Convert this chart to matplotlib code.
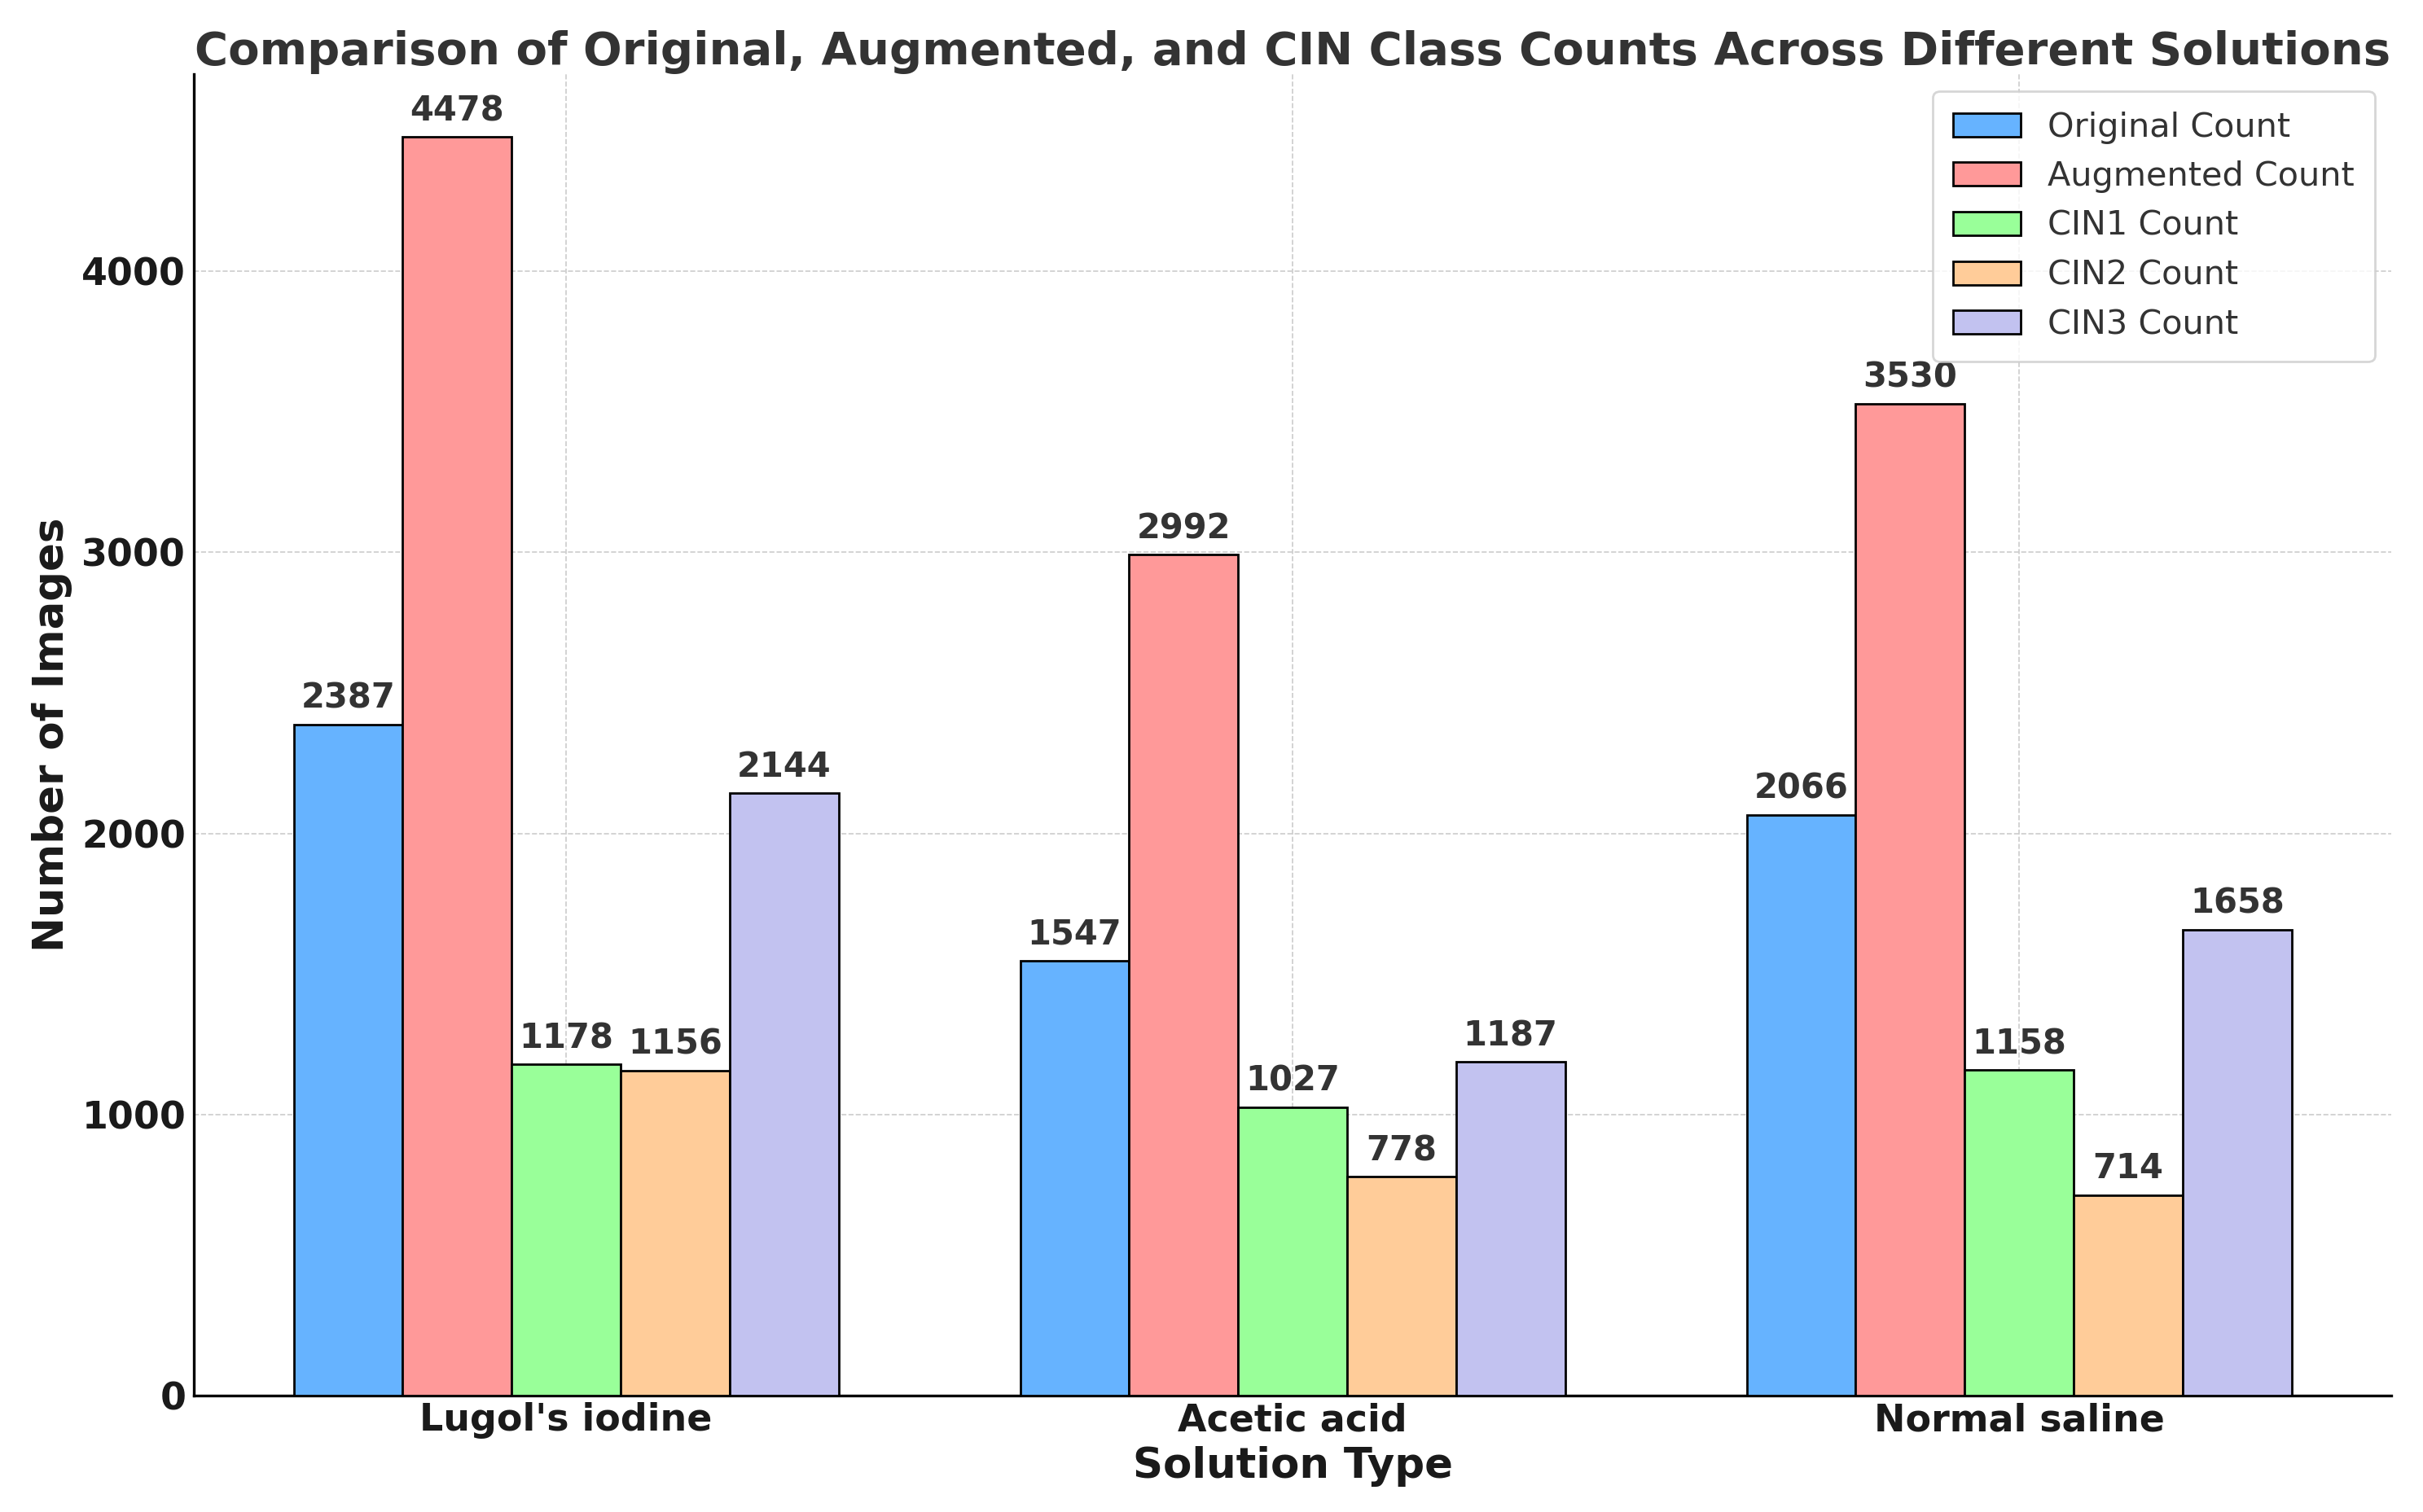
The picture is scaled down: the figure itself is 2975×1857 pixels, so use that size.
import matplotlib.pyplot as plt
import numpy as np

solutions = ["Lugol's iodine", "Acetic acid", "Normal saline"]
series_names = ["Original Count", "Augmented Count", "CIN1 Count", "CIN2 Count", "CIN3 Count"]
original = [2387, 1547, 2066]
augmented = [4478, 2992, 3530]
cin1 = [1178, 1027, 1158]
cin2 = [1156, 778, 714]
cin3 = [2144, 1187, 1658]
colors = ["#66b3ff", "#ff9999", "#99ff99", "#ffcc99", "#c2c2f0"]

plt.rcParams["font.family"] = ["DejaVu Sans"]

fig, ax = plt.subplots(figsize=(14.875, 9.285), dpi=200)
fig.subplots_adjust(left=0.080, right=0.987, bottom=0.077, top=0.951)

x = np.arange(len(solutions))
width = 0.15
all_series = [original, augmented, cin1, cin2, cin3]

for i, (name, vals, col) in enumerate(zip(series_names, all_series, colors)):
    bars = ax.bar(x + (i - 2) * width, vals, width, label=name, color=col,
                  edgecolor="black", linewidth=1.0, zorder=3)
    for b in bars:
        ax.annotate(f"{int(b.get_height())}", (b.get_x() + b.get_width() / 2, b.get_height()),
                    xytext=(0, 4), textcoords="offset points", ha="center", va="bottom",
                    fontsize=15, fontweight="bold", color="#333333")

ax.set_title("Comparison of Original, Augmented, and CIN Class Counts Across Different Solutions",
             fontsize=20.2, fontweight="bold", color="#333333", pad=3)
ax.set_xlabel("Solution Type", fontsize=18.5, fontweight="bold", color="#1a1a1a", labelpad=3)
ax.set_ylabel("Number of Images", fontsize=18.5, fontweight="bold", color="#1a1a1a")
ax.set_xticks(x)
ax.set_xticklabels(solutions, fontsize=16.5, fontweight="bold", color="#1a1a1a")
ax.set_yticks([0, 1000, 2000, 3000, 4000])
ax.tick_params(axis="y", labelsize=16.5, length=0, labelcolor="#1a1a1a")
ax.tick_params(axis="x", length=4, direction="in", pad=3, labelcolor="#1a1a1a")
for lbl in ax.get_yticklabels():
    lbl.set_fontweight("bold")

ax.spines["top"].set_visible(False)
ax.spines["right"].set_visible(False)
ax.spines["left"].set_linewidth(1.2)
ax.spines["bottom"].set_linewidth(1.2)
ax.grid(True, linestyle="--", linewidth=0.6, color="#cccccc", zorder=0)
ax.set_axisbelow(True)

leg = ax.legend(loc="upper right", fontsize=14.9, frameon=True, fancybox=True,
                edgecolor="#cccccc", borderpad=0.6)
for t in leg.get_texts():
    t.set_color("#333333")

fig.savefig("out.png", dpi=200)
